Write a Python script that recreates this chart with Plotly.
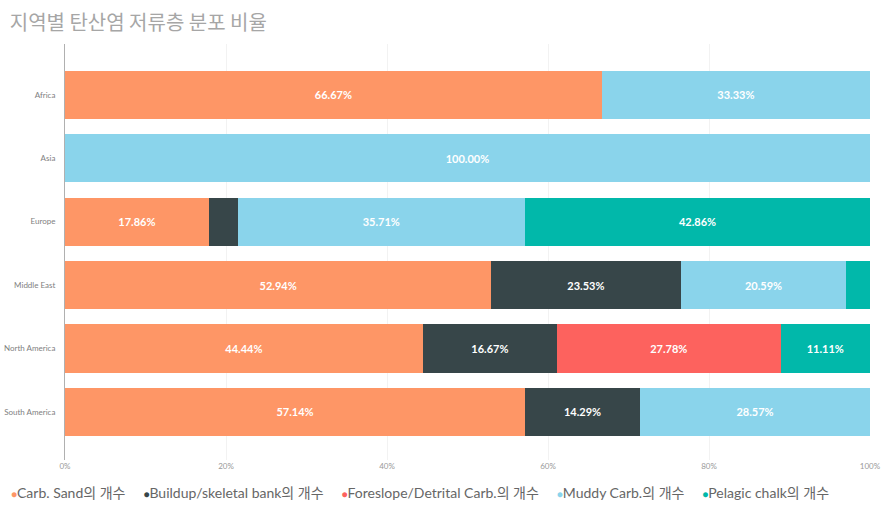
import plotly.graph_objects as go

regions = ["Africa", "Asia", "Europe", "Middle East", "North America", "South America"]

series_names = [
    "Carb. Sand의 개수",
    "Buildup/skeletal bank의 개수",
    "Foreslope/Detrital Carb.의 개수",
    "Muddy Carb.의 개수",
    "Pelagic chalk의 개수",
]

carb_sand = [66.67, 0, 17.86, 52.94, 44.44, 57.14]
buildup = [0, 0, 3.57, 23.53, 16.67, 14.29]
foreslope = [0, 0, 0, 0, 27.78, 0]
muddy = [33.33, 100.0, 35.71, 20.59, 0, 28.57]
pelagic = [0, 0, 42.86, 2.94, 11.11, 0]

colors = ["#FE9666", "#374649", "#FD625E", "#8AD4EB", "#01B8AA"]
tick_vals = [0, 20, 40, 60, 80, 100]
tick_text = ["0%", "20%", "40%", "60%", "80%", "100%"]

font_fam = "Segoe UI, Lato, Noto Sans CJK KR, sans-serif"

fig = go.Figure()
for name, vals, col in zip(series_names, [carb_sand, buildup, foreslope, muddy, pelagic], colors):
    labels = [f"{v:.2f}%" if v >= 5 else "" for v in vals]
    fig.add_trace(go.Bar(
        y=regions, x=vals, orientation="h", name=name,
        marker=dict(color=col, line=dict(width=0)),
        text=labels, textposition="inside", insidetextanchor="middle",
        textangle=0, constraintext="none",
        textfont=dict(color="white", size=11, family="Lato, Open Sans, sans-serif", weight="bold"),
        hoverinfo="x+name",
    ))

# legend drawn as one line of text so the dots sit right next to the names, like Power BI
legend_text = "&nbsp;&nbsp;&nbsp;&nbsp;&nbsp;".join(
    f"<span style='color:{c};font-size:10px'>●</span>{n}" for n, c in zip(series_names, colors)
)
fig.add_annotation(text=legend_text, xref="paper", yref="paper", x=-0.0696, y=-0.077,
                   xanchor="left", yanchor="middle", showarrow=False, align="left",
                   font=dict(size=14, color="#666666", family=font_fam))

fig.update_layout(
    width=885, height=507,
    barmode="stack", bargap=0.24,
    paper_bgcolor="white", plot_bgcolor="white",
    margin=dict(l=65, r=15, t=44, b=47),
    font=dict(family=font_fam, color="#666666"),
    showlegend=False,
    title=dict(text="지역별 탄산염 저류층 분포 비율", x=0.011, xref="container", xanchor="left",
               y=0.955, yref="container", yanchor="middle",
               font=dict(size=20, color="#a6a6a6", family="Noto Sans CJK KR, sans-serif")),
)
fig.update_xaxes(range=[0, 100], tickvals=tick_vals, ticktext=tick_text,
                 showgrid=True, gridcolor="#f2f2f2", gridwidth=1, zeroline=False,
                 tickfont=dict(size=8, color="#999999"), showline=False, ticks="",
                 automargin=False)
fig.update_yaxes(range=[5.757, -0.80], showline=True, linecolor="#b0b0b0", linewidth=1,
                 tickfont=dict(size=8, color="#808080"), ticks="", ticklabelstandoff=7,
                 showgrid=False, automargin=False)

fig.write_html("out.html", config={"displayModeBar": False},
               post_script="document.body.style.margin = '0';")
